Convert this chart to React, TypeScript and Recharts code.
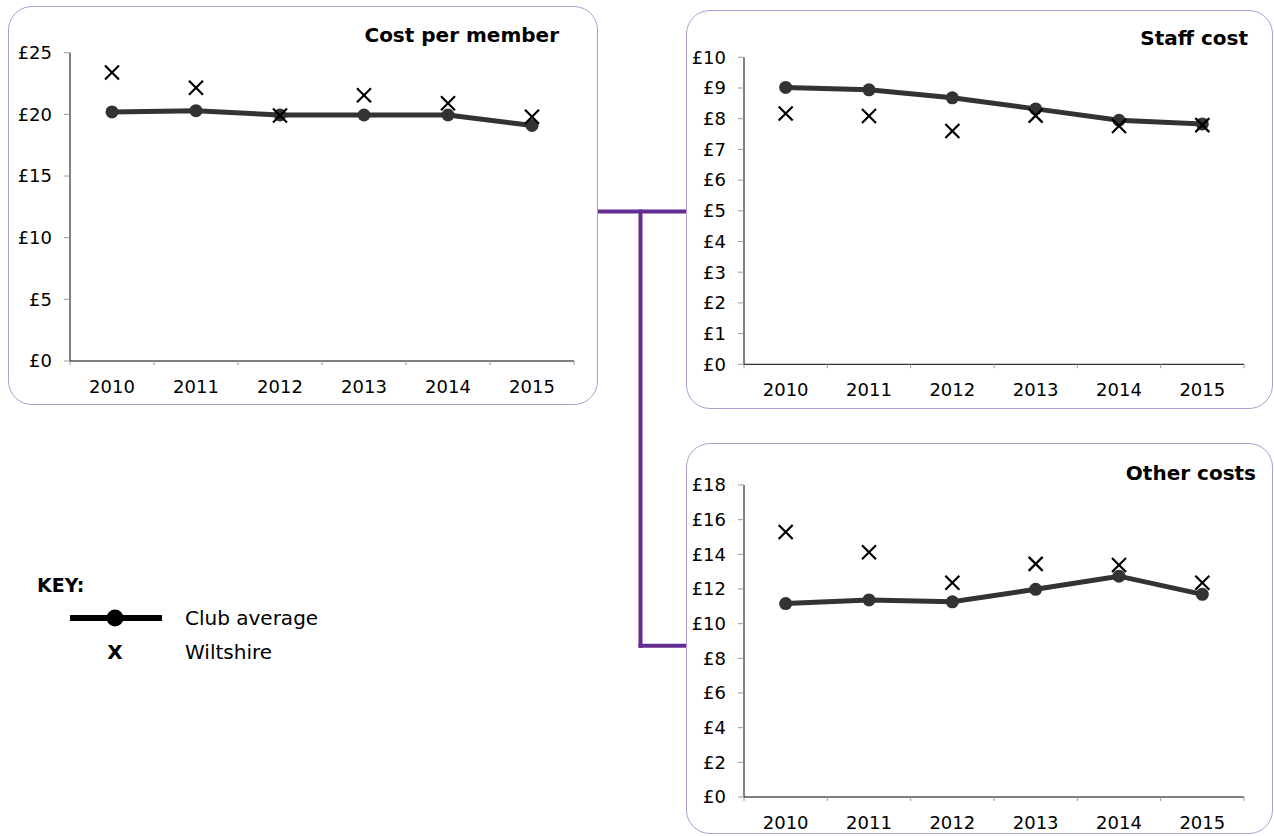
import React from 'react';
import { LineChart, Line, XAxis, YAxis } from 'recharts';

const years = ['2010', '2011', '2012', '2013', '2014', '2015'];

const costClub = [20.2, 20.3, 19.95, 19.95, 19.95, 19.1];
const costWilts = [23.4, 22.15, 19.9, 21.55, 20.9, 19.8];
const costTicks = [0, 5, 10, 15, 20, 25];

const staffClub = [9.02, 8.94, 8.68, 8.32, 7.95, 7.83];
const staffWilts = [8.17, 8.09, 7.6, 8.1, 7.76, 7.79];
const staffTicks = [0, 1, 2, 3, 4, 5, 6, 7, 8, 9, 10];

const otherClub = [11.16, 11.37, 11.26, 11.98, 12.74, 11.69];
const otherWilts = [15.29, 14.12, 12.36, 13.45, 13.38, 12.36];
const otherTicks = [0, 2, 4, 6, 8, 10, 12, 14, 16, 18];

const FONT = '"DejaVu Sans", Verdana, sans-serif';
const PURPLE = '#662d91';
const BORDER = '#b39bd2';
const LINE = '#333333';

const XMark: React.FC<any> = ({ cx, cy }) => {
  if (cx == null || cy == null) return null;
  const h = 7;
  return (
    <g stroke="#000" strokeWidth={2.2}>
      <line x1={cx - h} y1={cy - h} x2={cx + h} y2={cy + h} />
      <line x1={cx - h} y1={cy + h} x2={cx + h} y2={cy - h} />
    </g>
  );
};

const YearTick: React.FC<any> = ({ x, y, payload, index, half }) => {
  const axisY = y - 19;
  return (
    <g>
      <line x1={x - half} y1={axisY} x2={x - half} y2={axisY + 4} stroke="#999" />
      {index === years.length - 1 && (
        <line x1={x + half} y1={axisY} x2={x + half} y2={axisY + 4} stroke="#999" />
      )}
      <text x={x} y={y} dy="0.71em" textAnchor="middle" fontSize={18} fill="#000" fontFamily={FONT}>
        {payload.value}
      </text>
    </g>
  );
};

type PanelProps = {
  left: number; top: number; width: number; height: number;
  margin: { top: number; right: number; bottom: number; left: number };
  yWidth: number; xHeight: number;
  club: number[]; wilts: number[]; ticks: number[];
};

const Panel: React.FC<PanelProps> = ({ left, top, width, height, margin, yWidth, xHeight, club, wilts, ticks }) => {
  const data = years.map((year, i) => ({ year, club: club[i], wilts: wilts[i] }));
  const plotW = width - margin.left - margin.right - yWidth;
  const half = plotW / years.length / 2;
  return (
    <>
      <div style={{
        position: 'absolute', left, top, width, height, boxSizing: 'border-box',
        border: `1.5px solid ${BORDER}`, borderRadius: 24,
      }} />
      <div style={{ position: 'absolute', left, top }}>
        <LineChart width={width} height={height} data={data} margin={margin}>
          <XAxis
            dataKey="year"
            scale="band"
            height={xHeight}
            interval={0}
            axisLine={{ stroke: '#000' }}
            tickLine={false}
            tickSize={4}
            tickMargin={15}
            tick={<YearTick half={half} />}
          />
          <YAxis
            width={yWidth}
            domain={[0, ticks[ticks.length - 1]]}
            ticks={ticks}
            interval={0}
            axisLine={{ stroke: '#000' }}
            tickLine={{ stroke: '#999' }}
            tickSize={6}
            tickMargin={12}
            tickFormatter={(v: number) => `£${v}`}
            tick={{ fontSize: 18, fill: '#000', fontFamily: FONT }}
          />
          <Line
            dataKey="club"
            type="linear"
            stroke={LINE}
            strokeWidth={5}
            dot={{ r: 6.5, fill: LINE, stroke: LINE, strokeWidth: 0 }}
            isAnimationActive={false}
          />
          <Line
            dataKey="wilts"
            stroke="none"
            dot={<XMark />}
            isAnimationActive={false}
          />
        </LineChart>
      </div>
    </>
  );
};

const App: React.FC = () => {
  return (
    <div style={{ position: 'absolute', left: 0, top: 0, width: 1274, height: 836, background: '#fff', fontFamily: FONT }}>
      <Panel
        left={8} top={6} width={590} height={399}
        margin={{ top: 46.7, right: 24, bottom: 4, left: 0 }}
        yWidth={62} xHeight={40}
        club={costClub} wilts={costWilts} ticks={costTicks}
      />
      <Panel
        left={686} top={10} width={587} height={399}
        margin={{ top: 47.3, right: 29, bottom: 4.7, left: 0 }}
        yWidth={58} xHeight={40}
        club={staffClub} wilts={staffWilts} ticks={staffTicks}
      />
      <Panel
        left={686} top={443} width={587} height={391}
        margin={{ top: 42, right: 29, bottom: 4, left: 0 }}
        yWidth={58} xHeight={33}
        club={otherClub} wilts={otherWilts} ticks={otherTicks}
      />
      <svg width={1274} height={836} style={{ position: 'absolute', left: 0, top: 0, pointerEvents: 'none' }}>
        <g stroke={PURPLE} strokeWidth={4} fill="none">
          <line x1={598} y1={211.5} x2={686} y2={211.5} />
          <line x1={640.5} y1={209.5} x2={640.5} y2={647.8} />
          <line x1={638.5} y1={645.8} x2={686} y2={645.8} />
        </g>
        <g fontFamily={FONT} fontWeight="bold" fontSize={20} fill="#000" textAnchor="end">
          <text x={559} y={42}>Cost per member</text>
          <text x={1248} y={45}>Staff cost</text>
          <text x={1256} y={480}>Other costs</text>
        </g>
        <g fontFamily={FONT} fill="#000">
          <text x={37} y={592} fontSize={19} fontWeight="bold">KEY:</text>
          <line x1={70} y1={618} x2={162} y2={618} stroke="#000" strokeWidth={6} />
          <circle cx={115} cy={618} r={8.5} fill="#000" />
          <text x={185} y={625} fontSize={20}>Club average</text>
          <text x={115} y={659} fontSize={20} fontWeight="bold" textAnchor="middle">X</text>
          <text x={185} y={659} fontSize={20}>Wiltshire</text>
        </g>
      </svg>
    </div>
  );
};

export default App;
